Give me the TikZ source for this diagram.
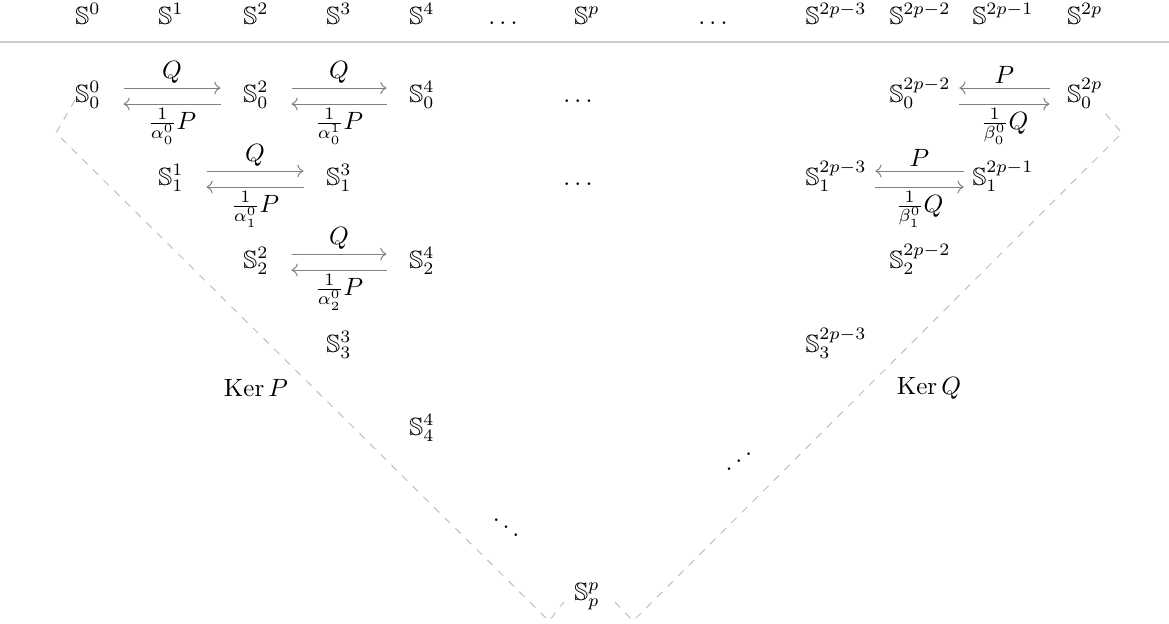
\documentclass[tikz,border=0pt]{standalone}
\usepackage{amsmath,amssymb}
\usepackage{graphicx}
\usetikzlibrary{arrows.meta}
\tikzset{
  sp/.style={anchor=base, minimum width=28pt, inner sep=3.33pt},
  hd/.style={anchor=base, inner sep=0pt},
  arr/.style={-{To}, gray},
  lbl/.style={inner sep=1.5pt, text=black},
  kerline/.style={dashed, gray!50},
  hrule/.style={gray!40, line width=0.6pt},
}

\begin{document}
\begin{tikzpicture}[x=0.4pt, y=-0.4pt]
  \useasboundingbox (0,0) rectangle (1169,623);
  % header row
  \foreach \cx/\lab [count=\i] in {88/{\mathbb{S}^0}, 171/{\mathbb{S}^1},
      256/{\mathbb{S}^2}, 339/{\mathbb{S}^3}, 422/{\mathbb{S}^4}, 505/{\dots},
      587/{\mathbb{S}^p}, 715/{\dots}, 836/{\mathbb{S}^{2p-3}},
      920/{\mathbb{S}^{2p-2}}, 1003/{\mathbb{S}^{2p-1}}, 1085/{\mathbb{S}^{2p}}}
    \node[hd] (h\i) at (\cx,24) {$\lab$};
  \coordinate (ruleL) at (0,42);
  \coordinate (ruleR) at (1169,42);
  \draw[hrule] (ruleL) -- (ruleR);

  % row 0
  \node[sp] (s00) at (88,102) {$\mathbb{S}_0^0$};
  \node[sp] (s02) at (256,102) {$\mathbb{S}_0^2$};
  \node[sp] (s04) at (422,102) {$\mathbb{S}_0^4$};
  \node[sp] (d0) at (580,102) {$\dots$};
  \node[sp] (s0a) at (920,102) {$\mathbb{S}_0^{2p-2}$};
  \node[sp] (s0b) at (1085,102) {$\mathbb{S}_0^{2p}$};
  % row 1
  \node[sp] (s11) at (171,185) {$\mathbb{S}_1^1$};
  \node[sp] (s13) at (339,185) {$\mathbb{S}_1^3$};
  \node[sp] (d1) at (580,185) {$\dots$};
  \node[sp] (s1a) at (836,185) {$\mathbb{S}_1^{2p-3}$};
  \node[sp] (s1b) at (1003,185) {$\mathbb{S}_1^{2p-1}$};
  % row 2
  \node[sp] (s22) at (256,268) {$\mathbb{S}_2^2$};
  \node[sp] (s24) at (422,268) {$\mathbb{S}_2^4$};
  \node[sp] (s2a) at (920,268) {$\mathbb{S}_2^{2p-2}$};
  % row 3 and below
  \node[sp] (s33) at (339,352) {$\mathbb{S}_3^3$};
  \node[sp] (s3a) at (836,352) {$\mathbb{S}_3^{2p-3}$};
  \node (kerP) at (256,388) {$\operatorname{Ker}P$};
  \node (kerQ) at (929,388) {$\operatorname{Ker}Q$};
  \node[sp] (s44) at (422,435) {$\mathbb{S}_4^4$};
  \node (dd) at (506,520) {$\ddots$};
  \node (di) at (739,454) {\reflectbox{$\ddots$}};
  \node[sp] (spp) at (587,600) {$\mathbb{S}_p^p$};

  % left arrows
  \draw[arr] ([yshift=5.6pt]s00.base east) -- node[above,lbl]{$Q$} ([yshift=5.6pt]s02.base west);
  \draw[arr] ([yshift=-0.8pt]s02.base west) -- node[below,lbl]{$\frac{1}{\alpha_0^0}P$} ([yshift=-0.8pt]s00.base east);
  \draw[arr] ([yshift=5.6pt]s02.base east) -- node[above,lbl]{$Q$} ([yshift=5.6pt]s04.base west);
  \draw[arr] ([yshift=-0.8pt]s04.base west) -- node[below,lbl]{$\frac{1}{\alpha_0^1}P$} ([yshift=-0.8pt]s02.base east);
  \draw[arr] ([yshift=5.6pt]s11.base east) -- node[above,lbl]{$Q$} ([yshift=5.6pt]s13.base west);
  \draw[arr] ([yshift=-0.8pt]s13.base west) -- node[below,lbl]{$\frac{1}{\alpha_1^0}P$} ([yshift=-0.8pt]s11.base east);
  \draw[arr] ([yshift=5.6pt]s22.base east) -- node[above,lbl]{$Q$} ([yshift=5.6pt]s24.base west);
  \draw[arr] ([yshift=-0.8pt]s24.base west) -- node[below,lbl]{$\frac{1}{\alpha_2^0}P$} ([yshift=-0.8pt]s22.base east);
  % right arrows
  \draw[arr] ([yshift=5.6pt]s0b.base west) -- node[above,lbl]{$P$} ([yshift=5.6pt]s0a.base east);
  \draw[arr] ([yshift=-0.8pt]s0a.base east) -- node[below,lbl]{$\frac{1}{\beta_0^0}Q$} ([yshift=-0.8pt]s0b.base west);
  \draw[arr] ([yshift=5.6pt]s1b.base west) -- node[above,lbl]{$P$} ([yshift=5.6pt]s1a.base east);
  \draw[arr] ([yshift=-0.8pt]s1a.base east) -- node[below,lbl]{$\frac{1}{\beta_1^0}Q$} ([yshift=-0.8pt]s1b.base west);

  % kernel borders
  \coordinate (pTop) at (75,100);
  \coordinate (pCorner) at (56,133);
  \coordinate (pBot) at (549,621);
  \coordinate (pEnd) at (564,602);
  \coordinate (qTop) at (1104,112);
  \coordinate (qCorner) at (1122,133);
  \coordinate (qBot) at (633,621);
  \coordinate (qEnd) at (615,602);
  \draw[kerline] (pTop) -- (pCorner) -- (pBot) -- (pEnd);
  \draw[kerline] (qEnd) -- (qBot) -- (qCorner) -- (qTop);
\end{tikzpicture}
\end{document}
